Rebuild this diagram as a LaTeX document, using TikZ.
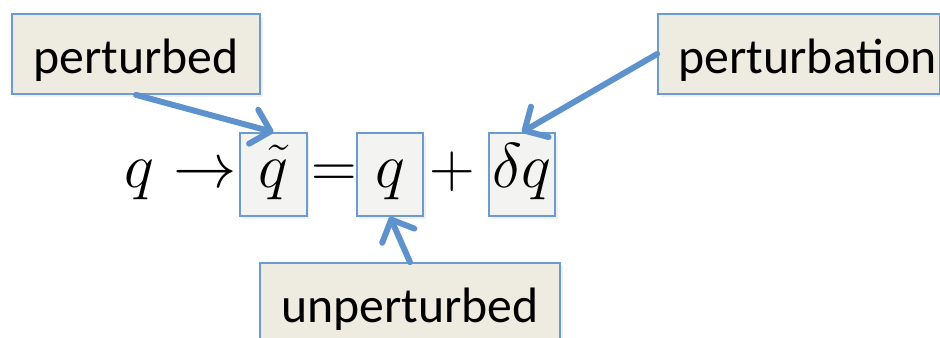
\RequirePackage{fix-cm}
\documentclass[tikz,border=0pt]{standalone}
\usepackage{fontspec}
\newfontfamily\calfont{Carlito}
\usetikzlibrary{arrows.meta,shadows}
\definecolor{boxline}{RGB}{108,155,210}
\definecolor{arrowblue}{RGB}{93,146,205}
\definecolor{labfill}{RGB}{238,236,225}
\definecolor{mathfill}{RGB}{243,243,242}

\begin{document}
\begin{tikzpicture}[x=0.02cm,y=-0.02cm,
  lab/.style={draw=boxline,line width=1pt,fill=labfill,inner sep=0pt,
    font=\calfont\fontsize{28.3}{30}\selectfont,
    drop shadow={opacity=0.12,shadow xshift=1.5pt,shadow yshift=-1.5pt}},
  mbox/.style={draw=boxline,line width=1pt,fill=mathfill,inner sep=0pt,
    minimum width=1.33cm,text height=1.08cm,text depth=0.58cm,
    font=\fontsize{36}{40}\selectfont,
    drop shadow={opacity=0.12,shadow xshift=1.5pt,shadow yshift=-1.5pt}},
  msym/.style={anchor=base,inner sep=0pt,font=\fontsize{36}{40}\selectfont},
  pt/.style={arrowblue,line width=3.4pt,line cap=round,
    -{Straight Barb[length=10pt,width=20pt,line cap=round,line join=round]}}]
\clip (0,0) rectangle (940,338);
% the equation, baseline at y=187
\node[msym] (q0) at (139,187) {$q$};
\node[msym] (to) at (205,187) {$\to$};
\node[mbox] (qt) at (273.5,187) [anchor=base] {$\tilde q$};
\node[msym] (eq) at (334,187) {$=$};
\node[mbox] (qb) at (390,187) [anchor=base] {$q$};
\node[msym] (plus) at (452,187) {$+$};
\node[mbox] (dq) at (522,187) [anchor=base] {$\delta q$};
% labels
\node[lab,minimum width=4.96cm,text height=1.2cm,text depth=0.4cm] (pert) at (136,54) {perturbed};
\node[lab,text width=5.5cm,align=right,inner xsep=0.07cm,text height=1.2cm,text depth=0.4cm] (ptn) at (799,54) {perturbation};
\node[lab,minimum width=6cm,text height=1.18cm,text depth=0.8cm] (unp) at (410,312.5) {unperturbed};
% pointers
\draw[pt] (pert.south) -- (qt.north);
\draw[pt] (ptn.west) -- (dq.north);
\draw[pt] (unp.north) -- (qb.south);
\end{tikzpicture}
\end{document}
